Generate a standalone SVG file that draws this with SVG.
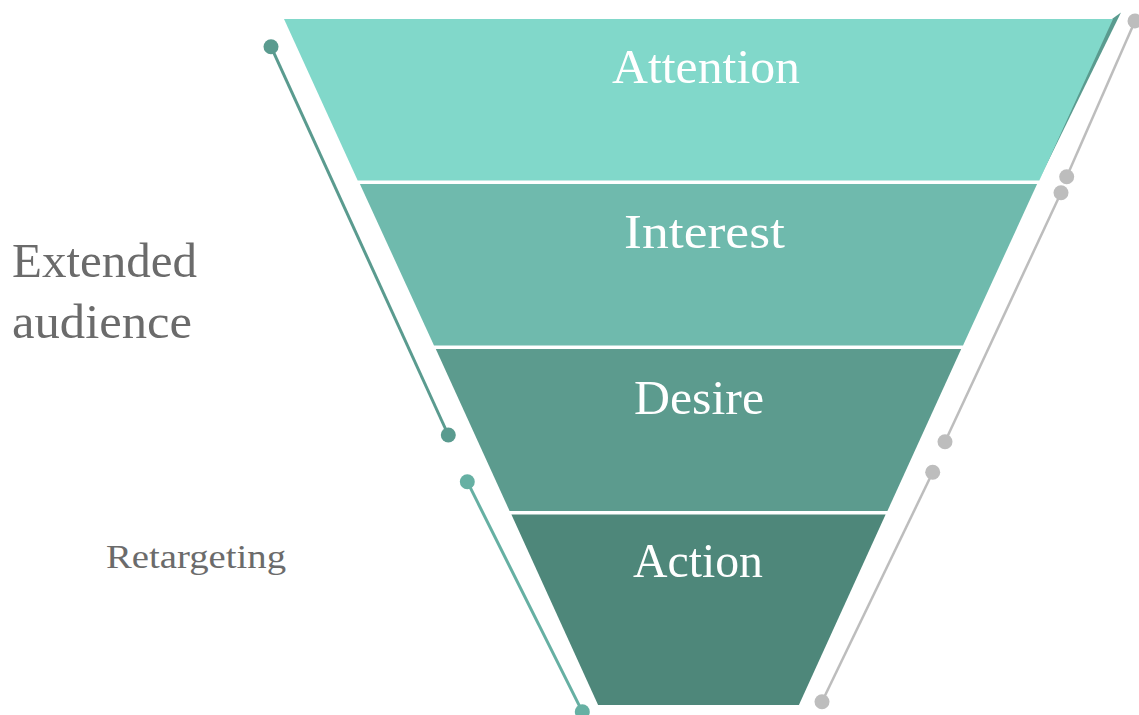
<svg xmlns="http://www.w3.org/2000/svg" width="1139" height="715" viewBox="0 0 1139 715">
<style>
.lbl{font-family:"Liberation Serif","DejaVu Serif",serif;font-size:49px;fill:#ffffff;text-anchor:middle}
.side{font-family:"Liberation Serif","DejaVu Serif",serif;fill:#6b6b6b}
.gl{stroke:#bdbdbd;stroke-width:2.5;fill:none}
.gd{fill:#bdbdbd}
</style>
<rect width="1139" height="715" fill="#ffffff"/>
<g id="funnel-edge">
<polygon points="1112,19 1121,12.5 1039,180" fill="#5a9b8f"/>
</g>
<g id="attention">
<polygon points="284,19 1113,19 1039.3,180.5 357.7,180.5" fill="#81d8ca"/>
<text class="lbl" x="706" y="83" textLength="188" lengthAdjust="spacingAndGlyphs">Attention</text>
</g>
<g id="interest">
<polygon points="359.9,184 1037.1,184 963,345.5 434,345.5" fill="#6fbaad"/>
<text class="lbl" x="704.5" y="248" textLength="161" lengthAdjust="spacingAndGlyphs">Interest</text>
</g>
<g id="desire">
<polygon points="435.8,349 961.2,349 887.4,511 509.6,511" fill="#5c9b8e"/>
<text class="lbl" x="699" y="414" textLength="130" lengthAdjust="spacingAndGlyphs">Desire</text>
</g>
<g id="action">
<polygon points="511.4,514.5 885.6,514.5 798.9,705 598.1,705" fill="#4e877a"/>
<text class="lbl" x="698" y="577" textLength="130" lengthAdjust="spacingAndGlyphs">Action</text>
</g>
<g id="extended-audience">
<text class="side" x="12" y="277" font-size="49" textLength="185" lengthAdjust="spacingAndGlyphs">Extended</text>
<text class="side" x="12" y="338" font-size="49" textLength="180" lengthAdjust="spacingAndGlyphs">audience</text>
</g>
<g id="retargeting">
<text class="side" x="106" y="568" font-size="34" textLength="180" lengthAdjust="spacingAndGlyphs">Retargeting</text>
</g>
<g id="connectors">
<line x1="271" y1="46.7" x2="448.3" y2="435" stroke="#5a9b8f" stroke-width="3"/>
<circle cx="271" cy="46.7" r="7.5" fill="#5a9b8f"/>
<circle cx="448.3" cy="435" r="7.5" fill="#5a9b8f"/>
<line x1="467.3" y1="481.7" x2="582.3" y2="711.7" stroke="#66b0a3" stroke-width="3"/>
<circle cx="467.3" cy="481.7" r="7.5" fill="#66b0a3"/>
<circle cx="582.3" cy="711.7" r="7.5" fill="#66b0a3"/>
<line class="gl" x1="1135" y1="21" x2="1066.7" y2="176.7"/>
<circle class="gd" cx="1135" cy="21" r="7.5"/>
<circle class="gd" cx="1066.7" cy="176.7" r="7.5"/>
<line class="gl" x1="1061" y1="192.7" x2="945" y2="441.7"/>
<circle class="gd" cx="1061" cy="192.7" r="7.5"/>
<circle class="gd" cx="945" cy="441.7" r="7.5"/>
<line class="gl" x1="932.7" y1="472.3" x2="822" y2="701.7"/>
<circle class="gd" cx="932.7" cy="472.3" r="7.5"/>
<circle class="gd" cx="822" cy="701.7" r="7.5"/>
</g>
</svg>
